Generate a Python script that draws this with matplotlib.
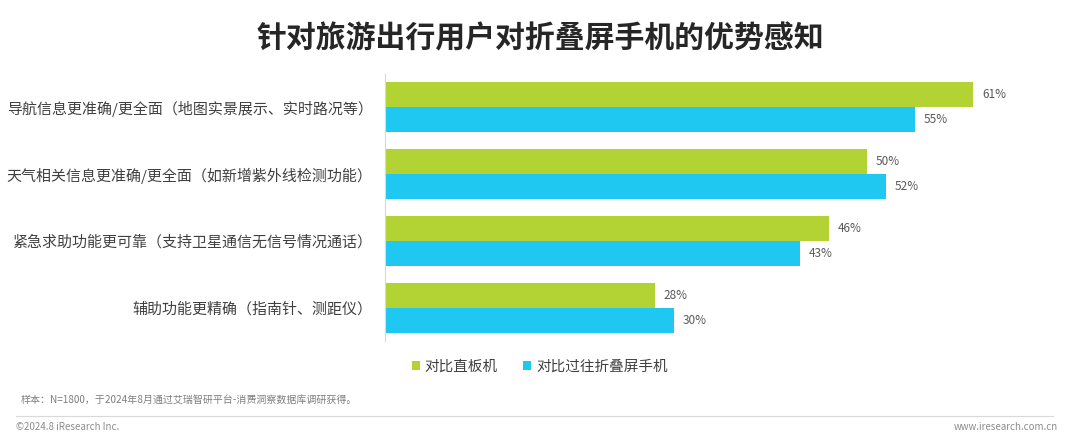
import matplotlib
matplotlib.use("Agg")
import matplotlib.pyplot as plt
import numpy as np

plt.rcParams['font.family'] = ['Noto Sans CJK SC', 'DejaVu Sans']

title = "针对旅游出行用户对折叠屏手机的优势感知"
categories = ["导航信息更准确/更全面（地图实景展示、实时路况等）",
              "天气相关信息更准确/更全面（如新增紫外线检测功能）",
              "紧急求助功能更可靠（支持卫星通信无信号情况通话）",
              "辅助功能更精确（指南针、测距仪）"]
series_names = ["对比直板机", "对比过往折叠屏手机"]
vs_bar = [61, 50, 46, 28]
vs_fold = [55, 52, 43, 30]
note = "样本：N=1800，于2024年8月通过艾瑞智研平台-消费洞察数据库调研获得。"

green = "#B3D234"
cyan = "#1FC8F1"

fig = plt.figure(figsize=(10.8, 4.37), dpi=100)
ax = fig.add_axes([0.3565, 0.2197, 0.625, 0.611])

y = np.arange(len(categories))
h = 0.375
b1 = ax.barh(y - h / 2, vs_bar, height=h, color=green, label=series_names[0])
b2 = ax.barh(y + h / 2, vs_fold, height=h, color=cyan, label=series_names[1])
for bars, vals in ((b1, vs_bar), (b2, vs_fold)):
    for r, v in zip(bars, vals):
        ax.text(r.get_width() + 0.9, r.get_y() + r.get_height() / 2, f"{v}%",
                va="center", ha="left", fontsize=8.5, color="#595959")

ax.set_xlim(0, 70)
ax.set_ylim(3.5, -0.5)
ax.set_yticks(y)
ax.set_yticklabels(categories, fontsize=10.8, color="#404040")
ax.tick_params(axis="y", length=0, pad=9)
ax.set_xticks([])
for s in ["top", "right", "bottom"]:
    ax.spines[s].set_visible(False)
ax.spines["left"].set_color("#D9D9D9")

ax.legend(loc="upper center", bbox_to_anchor=(0.229, -0.02), ncol=2, frameon=False,
          fontsize=10.5, handlelength=0.6, handleheight=0.6, handletextpad=0.3,
          columnspacing=1.7, labelcolor="#404040")

fig.text(0.5, 0.913, title, ha="center", va="center", fontsize=21.5, fontweight="bold", color="#262626")
fig.text(0.019, 0.085, note, ha="left", va="center", fontsize=7.2, color="#7F7F7F")
fig.add_artist(plt.Line2D([0.015, 0.975], [0.048, 0.048], color="#D9D9D9", lw=0.8))
fig.text(0.015, 0.022, "©2024.8 iResearch Inc.", ha="left", va="center", fontsize=7, color="#8C8C8C")
fig.text(0.98, 0.022, "www.iresearch.com.cn", ha="right", va="center", fontsize=7, color="#8C8C8C")

plt.savefig("out.png", dpi=100)
